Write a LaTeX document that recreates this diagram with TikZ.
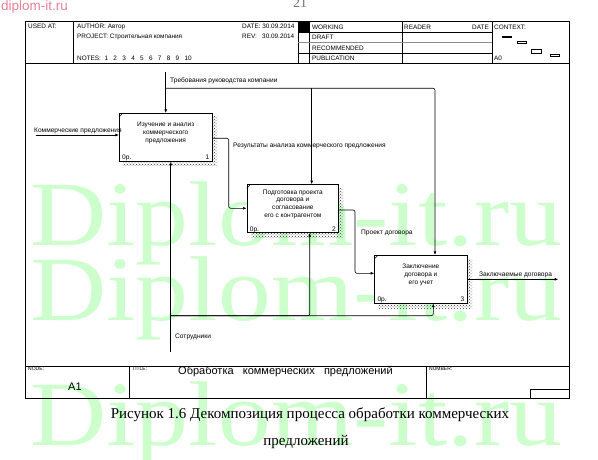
\documentclass[tikz,border=0pt]{standalone}
\usepackage{fontspec}
\setmainfont{Liberation Serif}
\newfontfamily\arialf{Liberation Sans}
\usetikzlibrary{arrows.meta,patterns,calc}
\definecolor{wm}{RGB}{205,255,205}
\definecolor{pinkwm}{RGB}{232,130,150}
\begin{document}
\begin{tikzpicture}[x=1pt,y=-1pt,
  tiny/.style={font=\arialf\fontsize{6.4}{7}\selectfont, inner sep=0pt},
  lbl/.style={font=\arialf\fontsize{6.6}{7}\selectfont, inner sep=0pt},
  boxtxt/.style={font=\arialf\fontsize{6.5}{7.8}\selectfont, align=center, inner sep=0pt},
  box/.style={draw, fill=white, line width=0.7pt, inner sep=0pt, anchor=north west},
  shadowfill/.style={pattern=crosshatch dots, pattern color=black!80},
  conn/.style={line width=0.6pt, rounded corners=2pt},
  arr/.style={conn, -{Latex[length=3.6pt,width=2.8pt]}},
  frame/.style={line width=0.6pt},
  wmark/.style={font=\fontsize{92}{92}\selectfont, text=wm, inner sep=0pt, anchor=base west}
]
\useasboundingbox (0,0) rectangle (598,460);
\fill[white] (0,0) rectangle (598,460);

% watermarks
\node[wmark] (w1) at (30,245) {\scalebox{1.15}[1]{Diplom-it.ru}};
\node[wmark] (w2) at (30,320) {\scalebox{1.15}[1]{Diplom-it.ru}};
\node[wmark] (w3) at (30,445) {\scalebox{1.15}[1]{Diplom-it.ru}};
\node[font=\arialf\fontsize{13.5}{14}\selectfont, text=pinkwm, inner sep=0pt, anchor=base west] (pw) at (1,11) {diplom-it.ru};
\node[font=\fontsize{14}{14}\selectfont, text=black!55, inner sep=0pt, anchor=base] (pg) at (300,7.5) {21};

% outer frame
\draw[frame] (25,21) rectangle (569,398);
% header
\draw[frame] (25,63) -- (569,63);
\draw[frame] (73,21) -- (73,63);
\draw[frame] (298,21) -- (298,63);
\draw[frame] (309,21) -- (309,63);
\draw[frame] (402,21) -- (402,63);
\draw[frame] (492,21) -- (492,63);
\fill (298,21) rectangle (309,32);
\draw[frame] (298,32.3) -- (492,32.3);
\draw[line width=1.2pt, black!45] (298,42.7) -- (492,42.7);
\draw[frame] (298,53.3) -- (492,53.3);

\node[tiny, anchor=base west] (usedat) at (28,28.8) {USED AT:};
\node[tiny, anchor=base west] (author) at (77,28.8) {AUTHOR: Автор};
\node[tiny, anchor=base west] (project) at (77,38.8) {PROJECT: Строительная компания};
\node[tiny, anchor=base west] (notes) at (77,61) {NOTES:\ \ 1\ \ \ 2\ \ \ 3\ \ \ 4\ \ \ 5\ \ \ 6\ \ \ 7\ \ \ 8\ \ \ 9\ \ \ 10};
\node[tiny, anchor=base west] (date) at (242,28.8) {DATE: 30.09.2014};
\node[tiny, anchor=base west] (rev) at (242,38.8) {REV:\ \ \ 30.09.2014};
\node[tiny, anchor=base west] (working) at (312,29.3) {WORKING};
\node[tiny, anchor=base west] (draft) at (312,39.8) {DRAFT};
\node[tiny, anchor=base west] (recom) at (312,50.2) {RECOMMENDED};
\node[tiny, anchor=base west] (publ) at (312,60.6) {PUBLICATION};
\node[tiny, anchor=base west] (reader) at (404,29.3) {READER};
\node[tiny, anchor=base west] (rdate) at (472,29.3) {DATE};
\node[tiny, anchor=base west] (context) at (494,29.3) {CONTEXT:};
\node[tiny, anchor=base west] (a0) at (494,60.6) {A0};
% context thumbnail
\fill (502,36) rectangle (512,37.6);
\draw[line width=0.5pt] (517,41) rectangle (526,43.4);
\draw[line width=0.5pt] (531,49) rectangle (541,53);
\draw[line width=0.5pt] (550,54.3) rectangle (559,56.7);

% footer
\draw[frame] (25,366) -- (569,366);
\draw[frame] (129,366) -- (129,398);
\draw[frame] (426,366) -- (426,398);
\draw[frame] (530,398) -- (530,389) -- (569,389);
\node[font=\arialf\fontsize{5}{5}\selectfont, inner sep=0pt, anchor=base west] (nodel) at (28,370.5) {NODE:};
\node[font=\arialf\fontsize{5}{5}\selectfont, inner sep=0pt, anchor=base west] (titlel) at (132,370.5) {TITLE:};
\node[font=\arialf\fontsize{5}{5}\selectfont, inner sep=0pt, anchor=base west] (numl) at (429,370.5) {NUMBER:};
\node[font=\arialf\fontsize{11}{11}\selectfont, inner sep=0pt, anchor=base west] (a1) at (68,390) {A1};
\node[font=\arialf\fontsize{11}{11}\selectfont, inner sep=0pt, anchor=base west] (title) at (178,374.5) {Обработка\ \ \ коммерческих\ \ \ предложений};

% caption
\node[font=\fontsize{15}{15}\selectfont, inner sep=0pt, anchor=base] (cap1) at (310,418) {Рисунок 1.6 Декомпозиция процесса обработки коммерческих};
\node[font=\fontsize{15}{15}\selectfont, inner sep=0pt, anchor=base] (cap2) at (306,445) {предложений};

% shadows
\fill[shadowfill] (123,117) rectangle (217,165.5);
\fill[shadowfill] (251,188) rectangle (343,237);
\fill[shadowfill] (378,259) rectangle (472,308);

% boxes
\node[box, minimum width=92.7pt, minimum height=48pt] (b1) at (119,113) {};
\node[box, minimum width=91.6pt, minimum height=48pt] (b2) at (246.7,184.3) {};
\node[box, minimum width=92.4pt, minimum height=47.7pt] (b3) at (374.3,255) {};
\foreach \b in {b1,b2,b3}{
  \draw[line width=0.5pt] ($(\b.north west)+(0,4)$) -- ($(\b.north west)+(4,0)$);
}
\node[boxtxt] (t1) at ($(b1.center)+(0,-4.5)$) {Изучение и анализ\\коммерческого\\предложения};
\node[boxtxt] (t2) at ($(b2.center)+(0,-4.5)$) {Подготовка проекта\\договора и\\согласование\\его с контрагентом};
\node[boxtxt] (t3) at ($(b3.center)+(0,-4.5)$) {Заключение\\договора и\\его учет};
\foreach \b/\n in {b1/1,b2/2,b3/3}{
  \node[lbl, anchor=base west] at ($(\b.south west)+(3,-2)$) {0р.};
  \node[lbl, anchor=base east] at ($(\b.south east)+(-3,-2)$) {\n};
}

% input
\coordinate (in1) at (36,135);
\draw[arr] (in1) -- (in1 -| b1.west);
\node[lbl, anchor=base west] (lin1) at (34,132.5) {Коммерческие предложения};

% control
\coordinate (ctop) at (165.7,72);
\coordinate (cj) at (165.7,88.3);
\coordinate (c2) at (311.7,88.3);
\coordinate (c3) at (435,88.3);
\draw[arr] (ctop) -- (ctop |- b1.north);
\draw[arr] (cj) -- (c3) -- (c3 |- b3.north);
\draw[arr] (c2) -- (c2 |- b2.north);
\node[lbl, anchor=base west] (lctl) at (170,83) {Требования руководства компании};

% output 1
\coordinate (o1a) at (228.7,138.3);
\coordinate (o1b) at (228.7,208.3);
\draw[arr] (o1a -| b1.east) -- (o1a) -- (o1b) -- (o1b -| b2.west);
\node[lbl, anchor=base west] (lo1) at (233,147) {Результаты анализа коммерческого предложения};

% output 2
\coordinate (o2a) at (355,210);
\coordinate (o2b) at (355,273.3);
\draw[arr] (o2a -| b2.east) -- (o2a) -- (o2b) -- (o2b -| b3.west);
\node[lbl, anchor=base west] (lo2) at (361,234.5) {Проект договора};

% output 3
\coordinate (o3) at (558.3,279.3);
\draw[arr] (o3 -| b3.east) -- (o3);
\node[lbl, anchor=base west] (lo3) at (479,276) {Заключаемые договора};

% mechanism
\coordinate (mbot) at (170.7,351.7);
\coordinate (mj) at (170.7,315.7);
\coordinate (m2) at (309.7,315.7);
\coordinate (m3) at (433.3,315.7);
\draw[arr] (mbot) -- (mbot |- b1.south);
\draw[arr] (mj) -- (m3) -- (m3 |- b3.south);
\draw[arr] (mj) -- (m2) -- (m2 |- b2.south);
\node[lbl, anchor=base west] (lmech) at (175,338) {Сотрудники};
\end{tikzpicture}
\end{document}
